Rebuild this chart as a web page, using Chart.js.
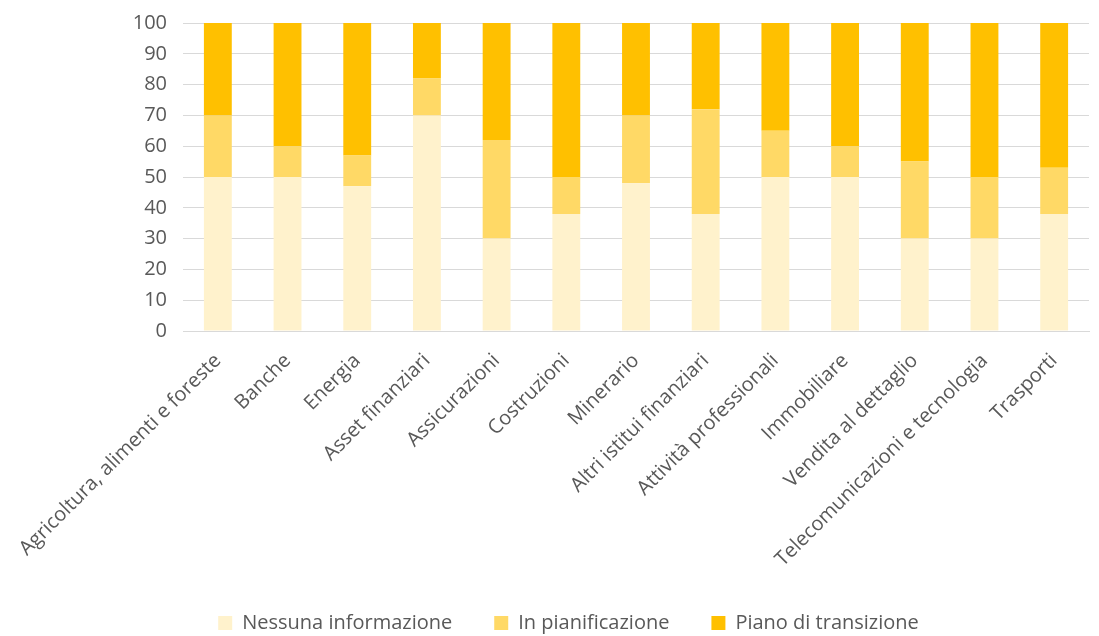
<!DOCTYPE html>
<html>
<head>
<meta charset="utf-8">
<script src="https://cdn.jsdelivr.net/npm/chart.js@4"></script>
<style>
  html, body { margin: 0; padding: 0; background: #ffffff; }
  #wrap { width: 1099px; height: 636px; position: relative; }
</style>
</head>
<body>
<div id="wrap"><canvas id="grafico"></canvas></div>
<script>
// Settori e valori (percentuali)
const settori = [
    "Agricoltura, alimenti e foreste", "Banche", "Energia", "Asset finanziari",
    "Assicurazioni", "Costruzioni", "Minerario", "Altri istitui finanziari",
    "Attività professionali", "Immobiliare", "Vendita al dettaglio",
    "Telecomunicazioni e tecnologia", "Trasporti"
];
const nessunaInformazione = [50, 50, 47, 70, 30, 38, 48, 38, 50, 50, 30, 30, 38];
const inPianificazione   = [20, 10, 10, 12, 32, 12, 22, 34, 15, 10, 25, 20, 15];
const pianoTransizione   = [30, 40, 43, 18, 38, 50, 30, 28, 35, 40, 45, 50, 47];
const tickY = [0, 10, 20, 30, 40, 50, 60, 70, 80, 90, 100];

const fontBase = "'Open Sans', sans-serif";
const grigioTesto = "#595959";

function serie(label, data, colore) {
    return {
        label: label,
        data: data,
        backgroundColor: colore,
        borderWidth: 0,
        barPercentage: 0.4,
        categoryPercentage: 1.0
    };
}

const ctx = document.getElementById("grafico").getContext("2d");
new Chart(ctx, {
    type: "bar",
    data: {
        labels: settori,
        datasets: [
            serie("Nessuna informazione", nessunaInformazione, "#FFF2CC"),
            serie("In pianificazione", inPianificazione, "#FFD966"),
            serie("Piano di transizione", pianoTransizione, "#FFC000")
        ]
    },
    options: {
        responsive: true,
        maintainAspectRatio: false,
        animation: false,
        layout: { padding: { top: 23, right: 10, bottom: -7, left: 48 } },
        plugins: {
            legend: {
                position: "bottom",
                labels: {
                    boxWidth: 14,
                    boxHeight: 14,
                    padding: 42,
                    color: grigioTesto,
                    font: { family: fontBase, size: 20 }
                }
            },
            tooltip: { enabled: false }
        },
        scales: {
            x: {
                stacked: true,
                grid: { display: false },
                border: { color: "#d9d9d9", width: 1 },
                afterFit: (scale) => { scale.height = 240; },
                ticks: {
                    minRotation: 45,
                    maxRotation: 45,
                    autoSkip: false,
                    padding: 10,
                    color: grigioTesto,
                    font: { family: fontBase, size: 20 }
                }
            },
            y: {
                stacked: true,
                min: 0,
                max: 100,
                afterBuildTicks: (scale) => {
                    scale.ticks = tickY.map(v => ({ value: v }));
                },
                afterFit: (scale) => {
                    scale.width = 135;
                    scale.paddingTop = 0;
                },
                grid: { color: "#d9d9d9", lineWidth: 1, drawTicks: false },
                border: { display: false },
                ticks: {
                    padding: 16,
                    color: grigioTesto,
                    font: { family: fontBase, size: 20 }
                }
            }
        }
    }
});
</script>
</body>
</html>
